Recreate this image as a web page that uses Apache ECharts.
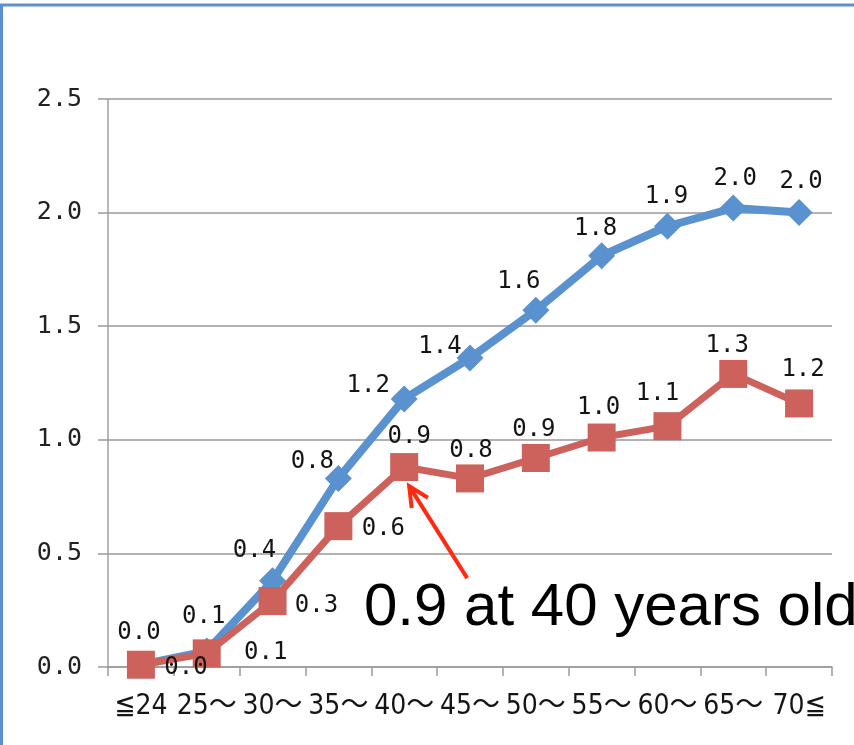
<!DOCTYPE html>
<html>
<head>
<meta charset="utf-8">
<script src="https://cdn.jsdelivr.net/npm/echarts@6/dist/echarts.min.js"></script>
<style>
  html, body { margin: 0; padding: 0; background: #fff; }
  #chart { width: 854px; height: 745px; }
</style>
</head>
<body>
<div id="chart"></div>
<script>
// Age brackets on the horizontal axis
const ageGroups = ['≦24', '25～', '30～', '35～', '40～', '45～', '50～', '55～', '60～', '65～', '70≦'];
// Upper (blue) series
const seriesBlue = [0.01, 0.07, 0.38, 0.83, 1.18, 1.36, 1.57, 1.81, 1.94, 2.02, 2.00];
// Lower (red) series
const seriesRed = [0.01, 0.06, 0.29, 0.62, 0.88, 0.83, 0.92, 1.01, 1.06, 1.29, 1.16];
// Value axis ticks
const yMin = 0, yMax = 2.5, yStep = 0.5;
// Callout
const noteText = '0.9 at 40 years old';
const noteIndex = 4;

const BLUE = '#5a92cf';
const RED = '#cd625c';
const numFont = '"DejaVu Sans Mono", "Liberation Mono", monospace';

// Per-point label offsets (label centre relative to marker centre)
const blueLabelOffsets = [[-2, -32], [-3, -34], [-18, -30], [-26, -17], [-36, -13], [-30, -11], [-17, -29], [-6, -27], [-1, -29], [2, -29], [2, -31]];
const redLabelOffsets = [[45, 3], [59, -1], [44, 5], [45, 3], [5, -30], [1, -28], [-2, -28], [-3, -30], [-10, -32], [-6, -28], [4, -34]];

function buildData(values, offsets) {
  return values.map((v, i) => ({
    value: v,
    label: { offset: offsets[i] }
  }));
}

const labelStyle = {
  show: true,
  position: 'inside',
  formatter: p => p.value.toFixed(1),
  fontFamily: numFont,
  fontSize: 24,
  color: '#141414'
};

const chart = echarts.init(document.getElementById('chart'), null, { renderer: 'canvas' });

chart.setOption({
  animation: false,
  backgroundColor: '#fff',
  grid: { left: 108, right: 22, top: 99, bottom: 78, containLabel: false },
  xAxis: {
    type: 'category',
    data: ageGroups,
    boundaryGap: true,
    axisLine: { lineStyle: { color: '#9a9a9a', width: 1.5 } },
    axisTick: { show: true, length: 9, lineStyle: { color: '#9a9a9a', width: 1.5 } },
    axisLabel: {
      interval: 0,
      margin: 26,
      color: '#151515',
      fontFamily: '"Liberation Sans Narrow", "DejaVu Sans Condensed", "Noto Sans CJK JP", sans-serif',
      fontSize: 28
    }
  },
  yAxis: {
    type: 'value',
    min: yMin,
    max: yMax,
    interval: yStep,
    axisLine: { show: true, lineStyle: { color: '#a0a0a0', width: 1.5 } },
    axisTick: { show: true, length: 10, lineStyle: { color: '#9a9a9a', width: 1.5 } },
    splitLine: { lineStyle: { color: '#999', width: 1.5 } },
    axisLabel: {
      margin: 26,
      color: '#222',
      fontFamily: numFont,
      fontSize: 25,
      formatter: v => v.toFixed(1)
    }
  },
  series: [
    {
      name: 'blue',
      type: 'line',
      data: buildData(seriesBlue, blueLabelOffsets),
      symbol: 'diamond',
      symbolSize: 27,
      lineStyle: { color: BLUE, width: 8 },
      itemStyle: { color: BLUE },
      label: labelStyle,
      z: 2
    },
    {
      name: 'red',
      type: 'line',
      data: buildData(seriesRed, redLabelOffsets),
      symbol: 'rect',
      symbolSize: 28,
      lineStyle: { color: RED, width: 7 },
      itemStyle: { color: RED },
      label: labelStyle,
      z: 3
    }
  ]
});

// Frame, callout text and arrow pointing at the marked point
const tip = chart.convertToPixel({ seriesIndex: 1 }, [noteIndex, seriesRed[noteIndex]]);
const tipX = tip[0] + 5, tipY = tip[1] + 19;
const tailX = tipX + 58, tailY = tipY + 92;
const ang = Math.atan2(tailY - tipY, tailX - tipX);
const wing = 22, spread = 0.45;
const w1 = [tipX + wing * Math.cos(ang - spread), tipY + wing * Math.sin(ang - spread)];
const w2 = [tipX + wing * Math.cos(ang + spread), tipY + wing * Math.sin(ang + spread)];
const ARROW = '#ff2a12';

chart.setOption({
  graphic: [
    {
      type: 'rect',
      shape: { x: 1.5, y: 5, width: 1000, height: 1000 },
      style: { fill: null, stroke: '#5b8fd0', lineWidth: 3 },
      silent: true,
      z: 100
    },
    {
      type: 'line',
      shape: { x1: tailX, y1: tailY, x2: tipX, y2: tipY },
      style: { stroke: ARROW, lineWidth: 4 },
      z: 100
    },
    {
      type: 'polyline',
      shape: { points: [w1, [tipX, tipY], w2] },
      style: { stroke: ARROW, lineWidth: 4, fill: null, lineJoin: 'miter' },
      z: 100
    },
    {
      type: 'text',
      left: 364,
      top: 578,
      style: {
        text: noteText,
        fill: '#000',
        font: '60px "Liberation Sans", Arial, sans-serif'
      },
      z: 100
    }
  ]
});
</script>
</body>
</html>
